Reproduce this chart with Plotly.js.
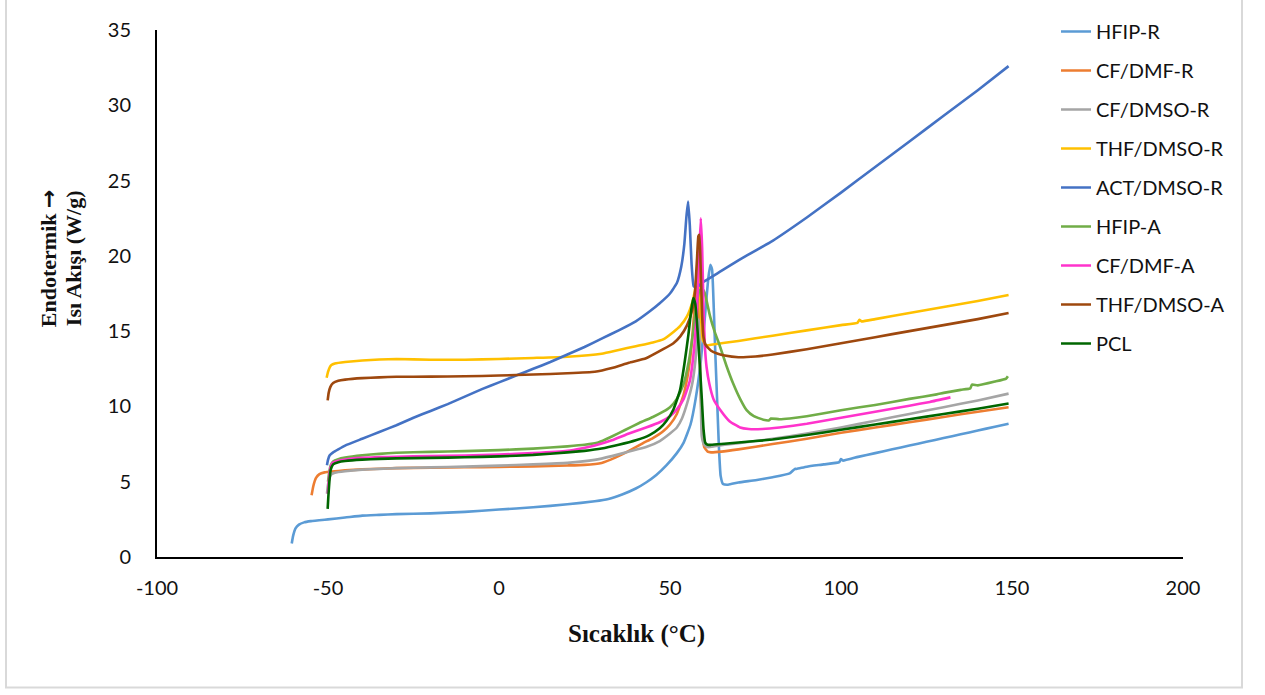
<!DOCTYPE html>
<html>
<head>
<meta charset="utf-8">
<script src="https://cdn.plot.ly/plotly-3.0.1.min.js"></script>
<style>
html,body{margin:0;padding:0;background:#fff;}
#chart{width:1265px;height:695px;}
</style>
</head>
<body>
<div id="chart"></div>
<script>
// Series names and colours
const seriesNames = ["HFIP-R","CF/DMF-R","CF/DMSO-R","THF/DMSO-R","ACT/DMSO-R","HFIP-A","CF/DMF-A","THF/DMSO-A","PCL"];
const seriesColors = ["#5B9BD5","#ED7D31","#A5A5A5","#FFC000","#4472C4","#70AD47","#FF33CC","#9E480E","#006600"];

// HFIP-R
const hfipR_T = [-60.6,-60.2,-59.5,-58.5,-57,-55,-50,-45,-40,-35,-30,-20,-10,0,10,20,28,32,36,40,43,46,49,52,54,56,57.5,59,60.3,61.2,61.8,62.3,62.8,63.3,63.8,64.3,64.8,65.5,67,70,75,80,85,86.5,87,90,95,99.5,100,100.6,105,110,115,120,125,130,135,140,145,149];
const hfipR_V = [0.9,1.4,1.9,2.15,2.3,2.38,2.5,2.62,2.75,2.8,2.85,2.9,3.0,3.15,3.3,3.5,3.7,3.85,4.15,4.55,4.95,5.45,6.1,6.9,7.6,8.8,10.5,13.0,16.2,18.5,19.4,19.1,16.5,13.2,10.3,7.3,5.4,4.85,4.8,4.95,5.1,5.3,5.55,5.85,5.85,6.0,6.15,6.3,6.5,6.4,6.65,6.9,7.15,7.4,7.65,7.9,8.15,8.4,8.65,8.85];

// CF/DMF-R
const cfdmfR_T = [-54.8,-54.3,-53.5,-52.5,-51,-49,-45,-40,-30,-20,-10,0,10,20,25,30,34,38,42,45,48,50,52,54,55.5,56.5,57.3,57.9,58.4,58.9,59.4,60,61,62,65,70,80,90,100,110,120,130,140,149];
const cfdmfR_V = [4.1,4.7,5.25,5.5,5.62,5.68,5.75,5.82,5.9,5.93,5.96,5.98,6.02,6.08,6.12,6.25,6.6,7.05,7.55,7.9,8.35,8.8,9.5,10.8,12.5,14.5,17.0,18.5,16.0,11.5,8.5,7.3,7.0,6.95,7.0,7.15,7.5,7.85,8.25,8.6,8.95,9.3,9.65,9.95];

// CF/DMSO-R
const cfdmsoR_T = [-50.3,-50,-49.5,-49,-48,-45,-40,-35,-30,-20,-10,0,10,20,28,33,38,43,47,50,52,53.5,55,56.5,57.5,58.1,58.5,58.9,59.3,60,61,63,66,70,80,90,100,110,120,130,140,149];
const cfdmsoR_V = [4.2,4.8,5.3,5.5,5.6,5.7,5.8,5.85,5.9,5.95,6.0,6.07,6.15,6.25,6.45,6.7,7.0,7.3,7.7,8.2,8.6,9.2,10.2,11.5,13.2,15.0,15.8,12.0,8.0,7.45,7.3,7.35,7.45,7.55,7.85,8.2,8.6,9.05,9.5,9.95,10.4,10.85];

// THF/DMSO-R
const thfdmsoR_T = [-50.4,-50,-49.5,-49,-48,-45,-40,-35,-30,-20,-10,0,10,20,30,35,40,45,48,51,53,55,56.5,57.3,57.9,58.3,58.7,59.1,59.6,60.5,62,70,80,90,100,104.8,105.4,106,110,120,130,140,149];
const thfdmsoR_V = [11.9,12.3,12.6,12.75,12.85,12.95,13.05,13.12,13.15,13.1,13.1,13.15,13.22,13.3,13.5,13.75,14.0,14.25,14.45,14.95,15.35,16.0,16.9,17.7,18.8,19.4,18.0,15.8,14.4,14.05,14.1,14.35,14.7,15.05,15.4,15.55,15.75,15.65,15.8,16.2,16.6,17.0,17.4];

// ACT/DMSO-R
const actdmsoR_T = [-50.3,-50,-49.5,-48.5,-47,-45,-40,-35,-30,-25,-20,-15,-10,-5,0,5,10,15,20,25,30,35,40,44,47,50,52,53.3,54.2,54.8,55.3,55.8,56.3,56.9,57.6,60,65,70,75,80,90,100,110,120,130,140,149];
const actdmsoR_V = [6.1,6.45,6.75,6.95,7.15,7.4,7.85,8.3,8.75,9.25,9.7,10.15,10.65,11.15,11.6,12.05,12.5,12.95,13.45,13.95,14.5,15.05,15.65,16.3,16.85,17.5,18.2,19.3,20.8,22.6,23.6,22.0,19.5,18.0,17.9,18.3,19.0,19.7,20.35,21.0,22.55,24.2,25.9,27.6,29.3,31.0,32.6];

// HFIP-A
const hfipA_T = [-50,-49.6,-49.2,-48.5,-47,-45,-40,-35,-30,-20,-10,0,10,20,25,29,33,37,41,45,48,50,52,54,55.5,56.8,57.8,58.6,59.5,60.2,61.7,63,64.6,66.5,68.5,70.5,72.4,74.5,77.3,79,79.5,82,85,90,100,110,120,128,130,135,137.8,138.3,140,145,148.3,148.8];
const hfipA_V = [5.0,5.7,6.1,6.35,6.5,6.6,6.75,6.85,6.92,6.98,7.03,7.1,7.2,7.35,7.45,7.6,8.0,8.45,8.9,9.3,9.65,9.95,10.5,11.5,13.0,15.0,16.8,17.7,17.8,17.5,16.0,15.0,14.0,12.7,11.5,10.5,9.75,9.35,9.12,9.08,9.2,9.15,9.2,9.35,9.75,10.1,10.5,10.8,10.9,11.1,11.2,11.45,11.4,11.65,11.85,12.0];

// CF/DMF-A
const cfdmfA_T = [-50,-49.7,-49.3,-48.7,-47,-45,-40,-35,-30,-20,-10,0,10,20,24,28,33,38,43,47,50,52,54,55.8,56.8,57.8,58.5,59.0,59.4,59.8,60.2,60.7,61.5,62.7,64.6,67.5,70.5,73,77,82,90,100,110,120,126,132];
const cfdmfA_V = [4.2,5.2,5.9,6.25,6.4,6.48,6.58,6.63,6.66,6.7,6.74,6.8,6.9,7.05,7.2,7.4,7.75,8.2,8.6,8.95,9.35,9.8,10.5,11.7,13.3,16.1,20.0,22.5,20.5,16.5,14.0,12.6,11.5,10.5,9.8,9.0,8.6,8.5,8.5,8.6,8.85,9.25,9.65,10.05,10.3,10.6];

// THF/DMSO-A
const thfdmsoA_T = [-50.1,-49.8,-49.3,-48.5,-47,-45,-40,-35,-30,-20,-10,0,10,20,28,33,38,43,48,51,53,55,56.5,57.3,57.9,58.3,58.6,59.0,59.4,59.8,60.5,62,64,66,70,75,80,90,100,110,120,130,140,149];
const thfdmsoA_V = [10.4,10.9,11.3,11.55,11.7,11.78,11.88,11.93,11.97,11.98,12.0,12.05,12.12,12.2,12.3,12.55,12.9,13.2,13.8,14.2,14.65,15.4,16.4,17.6,19.8,21.3,21.4,19.0,16.0,14.6,14.05,13.7,13.5,13.38,13.27,13.32,13.45,13.8,14.2,14.6,15.0,15.4,15.8,16.2];

// PCL
const pcl_T = [-50.1,-49.9,-49.6,-49.2,-48.5,-47,-45,-40,-35,-30,-20,-10,0,10,20,25,30,35,40,44,47,49,51,52.9,54.2,55.4,56.2,56.8,57.4,58,58.7,59.3,59.8,60.3,61,62,65,70,75,80,90,100,110,120,130,140,149];
const pcl_V = [3.2,4.0,5.0,5.8,6.15,6.3,6.38,6.47,6.52,6.55,6.58,6.62,6.68,6.78,6.95,7.05,7.2,7.45,7.75,8.1,8.55,9.05,9.8,11.05,12.8,14.8,16.4,17.2,16.8,15.2,12.8,10.5,8.5,7.6,7.45,7.45,7.5,7.6,7.7,7.8,8.1,8.45,8.8,9.15,9.5,9.85,10.2];

// Axis ticks
const xTickVals = [-100,-50,0,50,100,150,200];
const xTickText = ["-100","-50","0","50","100","150","200"];
const yTickVals = [0,5,10,15,20,25,30,35];
const yTickText = ["0","5","10","15","20","25","30","35"];

const seriesT = [hfipR_T,cfdmfR_T,cfdmsoR_T,thfdmsoR_T,actdmsoR_T,hfipA_T,cfdmfA_T,thfdmsoA_T,pcl_T];
const seriesV = [hfipR_V,cfdmfR_V,cfdmsoR_V,thfdmsoR_V,actdmsoR_V,hfipA_V,cfdmfA_V,thfdmsoA_V,pcl_V];

const traces = seriesNames.map((name,i)=>({
  type:'scatter', mode:'lines', name:name,
  x:seriesT[i], y:seriesV[i],
  legendgroup:'g'+i,
  line:{color:seriesColors[i], width:2.6, shape:'spline', smoothing:0.4}
}));

const W=1265,H=695,L=157,R=82,T=28,B=138;
const pw=W-L-R, ph=H-T-B;
const px=(x)=> (x-L)/pw;
const py=(y)=> (H-B-y)/ph;

const tickFont={family:'Lato, "Open Sans", sans-serif', size:20, color:'#111'};
const layout={
  width:W,height:H,
  margin:{l:L,r:R,t:T,b:B,pad:0},
  paper_bgcolor:'#fff',plot_bgcolor:'#fff',
  showlegend:true,
  legend:{x:px(1056),y:py(10),xanchor:'left',yanchor:'top',
    font:{family:'Lato, "Open Sans", sans-serif',size:20,color:'#111'},
    tracegroupgap:10,bgcolor:'rgba(0,0,0,0)',borderwidth:0},
  xaxis:{range:[-100,200],tickvals:xTickVals,ticktext:xTickText,ticks:'',showgrid:false,zeroline:false,
    showline:true,linecolor:'#000',linewidth:2,tickfont:tickFont,ticklabelstandoff:12},
  yaxis:{range:[0,35],tickvals:yTickVals,ticktext:yTickText,ticks:'',showgrid:false,zeroline:false,
    showline:true,linecolor:'#000',linewidth:2,tickfont:tickFont,ticklabelstandoff:20},
  annotations:[
    {text:'<b>Endotermik <span style="font-family:\'DejaVu Sans\'">→</span></b>',xref:'paper',yref:'paper',x:px(48),y:py(257),textangle:-90,
     showarrow:false,xanchor:'center',yanchor:'middle',
     font:{family:'"Liberation Serif", serif',size:22,color:'#111'}},
    {text:'<b>Isı Akışı (W/g)</b>',xref:'paper',yref:'paper',x:px(73),y:py(257),textangle:-90,
     showarrow:false,xanchor:'center',yanchor:'middle',
     font:{family:'"Liberation Serif", serif',size:22,color:'#111'}},
    {text:'<b>Sıcaklık (°C)</b>',xref:'paper',yref:'paper',x:px(636),y:py(634),
     showarrow:false,xanchor:'center',yanchor:'middle',
     font:{family:'"Liberation Serif", serif',size:25,color:'#111'}}
  ],
  shapes:[
    {type:'rect',xref:'paper',yref:'paper',x0:px(6),x1:px(1242),y0:py(688),y1:py(-4),
     line:{color:'#d9d9d9',width:2},fillcolor:'rgba(0,0,0,0)',layer:'below'}
  ]
};

Plotly.newPlot('chart',traces,layout,{displayModeBar:false,staticPlot:true});
</script>
</body>
</html>
